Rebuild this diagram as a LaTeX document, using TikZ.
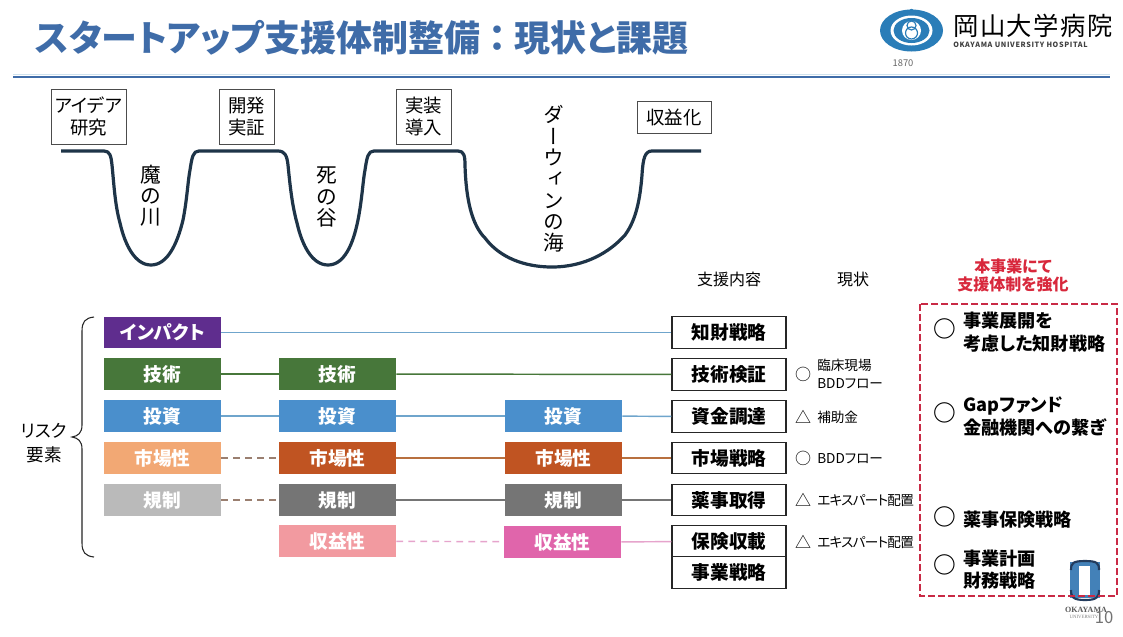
\documentclass[tikz,border=0pt]{standalone}
\usepackage{fontspec}
\setmainfont{Noto Sans CJK JP}[RawFeature={+palt}]
\newfontfamily\cjkv[RawFeature={+vert}]{Noto Sans CJK JP}
\newfontfamily\logoserif{Liberation Serif}
\newcommand{\pxf}[2]{\fontsize{#1}{#2}\selectfont}
\definecolor{titleblue}{HTML}{3F6CA8}
\definecolor{rulelight}{HTML}{CFE2EE}
\definecolor{logoblue}{HTML}{2A7DB8}
\definecolor{curvecol}{HTML}{1E3448}
\definecolor{cPurple}{HTML}{5F2D8E}
\definecolor{cGreen}{HTML}{47773A}
\definecolor{cBlue}{HTML}{4A8FCC}
\definecolor{cLOrange}{HTML}{F2A874}
\definecolor{cDOrange}{HTML}{C05422}
\definecolor{cLGrey}{HTML}{BABABA}
\definecolor{cDGrey}{HTML}{757575}
\definecolor{cPink}{HTML}{F29AA0}
\definecolor{cMagenta}{HTML}{E065AB}
\definecolor{lBlue}{HTML}{6FA5CC}
\definecolor{lOrange}{HTML}{B8703F}
\definecolor{lDash}{HTML}{9A7F70}
\definecolor{lMag}{HTML}{E6A4CC}
\definecolor{cRed}{HTML}{D8283C}
\definecolor{frameRed}{HTML}{C92A45}
\tikzset{
 x=0.75pt,y=-0.75pt,
 risk/.style={fill=#1,minimum width=87.75pt,minimum height=23.6pt,inner sep=0pt,text=white,font=\pxf{14}{16}\bfseries},
 supbox/.style={draw=black!85,line width=0.8pt,fill=white,minimum width=85.5pt,minimum height=23.6pt,inner sep=0pt,font=\pxf{14}{16}\bfseries},
 stage/.style={draw=black!70,line width=0.5pt,fill=white,inner sep=0pt,align=center,font=\pxf{13.8}{16.5}},
 lab/.style={inner sep=0pt,align=center},
 vlab/.style={inner sep=0pt,align=center,font=\pxf{15.5}{15.8}},
 stat/.style={inner sep=0pt,anchor=west,align=left,font=\pxf{10.2}{13.5}},
 statmark/.style={inner sep=0pt,font=\pxf{12}{14}},
 bigmark/.style={inner sep=0pt,font=\pxf{17}{18}\bfseries},
 ptext/.style={inner sep=0pt,anchor=west,align=left,font=\pxf{13.6}{16.8}\bfseries},
 conn/.style={line width=1.1pt},
 dashconn/.style={line width=1.1pt,dash pattern=on 5.2pt off 3.8pt},
}
\begin{document}
\begin{tikzpicture}
\useasboundingbox (0,0) rectangle (1123,636);
\fill[white] (0,0) rectangle (1123,636);
% title
\node[inner sep=0pt,anchor=west,text=titleblue,font=\pxf{27}{30}\bfseries] (title) at (35,38) {スタートアップ支援体制整備\hspace{6pt}：\hspace{6pt}現状と課題};
\draw[rulelight,line width=0.9pt] (13,74.5) -- (1110,74.5);
\draw[titleblue,line width=1.4pt] (13,76.8) -- (1110,76.8);
% top logo
\fill[logoblue] (911.5,30.5) ellipse [x radius=31.5,y radius=21];
\fill[white] (911.5,30.5) ellipse [x radius=21,y radius=15];
\fill[logoblue] (911.5,30.5) ellipse [x radius=18,y radius=12.5];
\fill[white] (911.5,30.5) circle (9.5);
\draw[logoblue,line width=0.9pt] (911.5,25.5) circle (4.5);
\draw[logoblue,line width=0.9pt] (911.5,33) circle (6);
\fill[logoblue] (911.5,11) circle (2.2);
\node[lab,anchor=west,font=\pxf{19}{22}] (logoj) at (953,26) {\addfontfeature{LetterSpace=6}岡山大学病院};
\node[lab,anchor=west,text=black!75,font=\pxf{5.4}{7}\bfseries] (logoe) at (953,45) {\addfontfeature{LetterSpace=9}OKAYAMA UNIVERSITY HOSPITAL};
\node[lab,text=black!60,font=\pxf{7}{8}] (logoy) at (903,63) {1870};
% curve
\draw[line width=2.4pt,curvecol,line join=round]
 (61,151) -- (104,151)
 .. controls (110,151) and (111,156) .. (112,165)
 .. controls (114,185) and (115,205) .. (120,223)
 .. controls (125,245) and (135,265) .. (151,265)
 .. controls (167,265) and (177,245) .. (183,220)
 .. controls (187,200) and (188,180) .. (190,170)
 .. controls (192,157) and (193,151) .. (199,151)
 -- (278,151)
 .. controls (285,151) and (287,156) .. (288,165)
 .. controls (290,185) and (292,205) .. (297,223)
 .. controls (302,245) and (312,265) .. (328,265)
 .. controls (344,265) and (353,245) .. (358,220)
 .. controls (362,200) and (363,180) .. (365,170)
 .. controls (367,157) and (368,151) .. (374,151)
 -- (458,151)
 .. controls (464,151) and (465,156) .. (465,165)
 .. controls (466,200) and (472,225) .. (485,238)
 .. controls (500,258) and (525,267) .. (552,267)
 .. controls (585,267) and (610,252) .. (625,235)
 .. controls (636,220) and (640,200) .. (642,175)
 .. controls (643,158) and (645,151) .. (652,151)
 -- (701,151);
\node[stage,minimum width=56.25pt,minimum height=41pt] (s1) at (88.5,116.5) {アイデア\\研究};
\node[stage,minimum width=41.25pt,minimum height=41pt] (s2) at (246.5,116.5) {開発\\実証};
\node[stage,minimum width=41.25pt,minimum height=41pt] (s3) at (423.5,116.5) {実装\\導入};
\node[stage,minimum width=55.5pt,minimum height=24pt] (s4) at (674,117) {収益化};
\node[vlab] (v1) at (151,196) {魔\\の\\川};
\node[vlab] (v2) at (327,197) {死\\の\\谷};
\node[vlab,font=\pxf{15.5}{16}\cjkv] (v3) at (553.5,179) {ダ\\ー\\ウ\\ィ\\ン\\の\\海};
% column headers
\node[lab,font=\pxf{12}{14}] (h1) at (729,279) {支援内容};
\node[lab,font=\pxf{12}{14}] (h2) at (853,279) {現状};
\node[lab,text=cRed,font=\pxf{12}{14}\bfseries] (h3) at (1013,275.5) {本事業にて\\支援体制を強化};
% risk label and brace
\node[lab,font=\pxf{13.2}{17.5}] (risk) at (44,443) {リスク\\要素};
\coordinate (bt) at (94,317);
\coordinate (bb) at (94,557);
\coordinate (bm) at (72,437);
\draw[black!85,line width=0.8pt] (bt) .. controls (85,318) and (82,322) .. (82,331)
 -- (82,425) .. controls (82,433) and (78,436) .. (bm)
 .. controls (78,438) and (82,441) .. (82,449)
 -- (82,543) .. controls (82,552) and (85,556) .. (bb);
% risk boxes
\node[risk=cPurple] (a1) at (162.5,332.5) {インパクト};
\node[risk=cGreen] (a2) at (162.5,374) {技術};
\node[risk=cBlue] (a3) at (162.5,416) {投資};
\node[risk=cLOrange] (a4) at (162.5,458) {市場性};
\node[risk=cLGrey] (a5) at (162.5,500) {規制};
\node[risk=cGreen] (b2) at (337.5,374) {技術};
\node[risk=cBlue] (b3) at (337.5,416) {投資};
\node[risk=cDOrange] (b4) at (337.5,458) {市場性};
\node[risk=cDGrey] (b5) at (337.5,500) {規制};
\node[risk=cPink] (b6) at (337.5,541) {収益性};
\node[risk=cBlue] (c3) at (563.5,416) {投資};
\node[risk=cDOrange] (c4) at (563.5,458) {市場性};
\node[risk=cDGrey] (c5) at (563.5,500) {規制};
\node[risk=cMagenta] (c6) at (562.5,542) {収益性};
% support boxes
\node[supbox] (d1) at (729,332.5) {知財戦略};
\node[supbox] (d2) at (729,374.5) {技術検証};
\node[supbox] (d3) at (729,416.5) {資金調達};
\node[supbox] (d4) at (729,458) {市場戦略};
\node[supbox] (d5) at (729,500) {薬事取得};
\node[supbox] (d6) at (729,541.5) {保険収載};
\node[supbox] (d7) at (729,572.5) {事業戦略};
% connectors
\draw[conn,lBlue] (a1) -- (d1);
\draw[conn,cGreen] (a2) -- (b2);
\draw[conn,cGreen] (b2) -- (d2);
\draw[conn,lBlue] (a3) -- (b3);
\draw[conn,lBlue] (b3) -- (c3);
\draw[conn,lBlue] (c3) -- (d3);
\draw[dashconn,lDash] (a4) -- (b4);
\draw[conn,lOrange] (b4) -- (c4);
\draw[conn,lOrange] (c4) -- (d4);
\draw[dashconn,lDash] (a5) -- (b5);
\draw[conn,cDGrey] (b5) -- (c5);
\draw[conn,cDGrey] (c5) -- (d5);
\draw[dashconn,lMag] (b6) -- (c6);
\draw[conn,lMag] (c6) -- (d6);
% status
\node[statmark] (m2) at (803,374) {○};
\node[stat] (t2) at (817,373.5) {臨床現場\\BDDフロー};
\node[statmark] (m3) at (803,417) {△};
\node[stat] (t3) at (817,417) {補助金};
\node[statmark] (m4) at (803,458) {○};
\node[stat] (t4) at (817,459) {BDDフロー};
\node[statmark] (m5) at (803,500) {△};
\node[stat] (t5) at (817,501) {\addfontfeature{LetterSpace=-5}エキスパート配置};
\node[statmark] (m6) at (803,542) {△};
\node[stat] (t6) at (817,543) {\addfontfeature{LetterSpace=-5}エキスパート配置};
% bottom logo
\fill[white] (1066,556) rectangle (1106,604);
\fill[cBlue!90!black] (1070,562) rectangle (1100,598);
\fill[white] (1079,566) rectangle (1090,595);
\draw[titleblue!55!black,line width=1.6pt] (1071,570) .. controls (1071,563) and (1073,561) .. (1085,561) .. controls (1097,561) and (1099,563) .. (1099,570);
\draw[titleblue!55!black,line width=1.6pt] (1071,590) .. controls (1071,597) and (1073,600) .. (1085,600) .. controls (1097,600) and (1099,597) .. (1099,590);
\node[lab,text=black!65,font=\pxf{6}{7}\logoserif\bfseries] (logo2) at (1086,610) {OKAYAMA};
\node[lab,text=black!50,font=\pxf{3.6}{4}\logoserif] (logo3) at (1084,617) {UNIVERSITY};
\node[lab,text=black!55,font=\pxf{12.5}{14}] (pageno) at (1104,618) {10};
% red frame
\draw[frameRed,line width=2pt,dash pattern=on 5.5pt off 2pt] (920,304) rectangle (1117,596);
\node[bigmark] (p1) at (945,329) {○};
\node[ptext] (q1) at (963,332) {事業展開を\\考慮した知財戦略};
\node[bigmark] (p2) at (945,413) {○};
\node[ptext] (q2) at (963,416.5) {Gapファンド\\金融機関への繋ぎ};
\node[bigmark] (p3) at (945,517) {○};
\node[ptext] (q3) at (963,520) {薬事保険戦略};
\node[bigmark] (p4) at (945,565) {○};
\node[ptext] (q4) at (963,569.5) {事業計画\\財務戦略};
\end{tikzpicture}
\end{document}
